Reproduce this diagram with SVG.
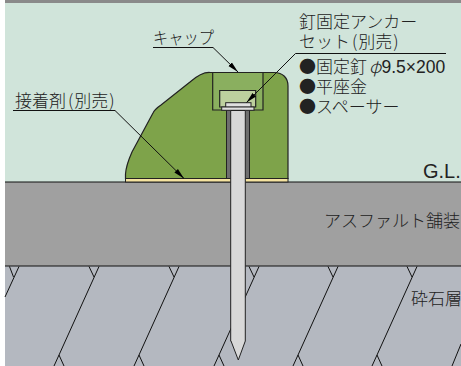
<svg xmlns="http://www.w3.org/2000/svg" width="461" height="366" viewBox="0 0 461 366">
<style>
.t{font-family:"Noto Sans CJK JP","Liberation Sans",sans-serif;font-size:17px;font-weight:300;fill:#222}
.n{font-family:"Liberation Sans",sans-serif;font-size:17.500px;fill:#222}
.l{fill:none;stroke:#111;stroke-width:1}
.g{fill:none;stroke:#111;stroke-width:1}
.o{stroke:#222;stroke-width:1.2}
</style>
<defs>
<marker id="a" markerUnits="userSpaceOnUse" markerWidth="13" markerHeight="9" refX="11" refY="3.5" orient="auto"><path d="M0 1L11 3.5L0 6Z" fill="#000"/></marker>
</defs>
<rect width="461" height="366" fill="#fff"/>
<rect x="5" y="0" width="456" height="182" fill="#d0e4da"/>
<rect x="5" y="0" width="456" height="3" fill="#8a8a8a"/>
<g id="gravel">
<rect x="5" y="266" width="456" height="100" fill="#b4b8c0"/>
<path class="g" d="M9.500 266.500L13.500 277M19 266.500L5 297M89 266.500L94 277M99 266.500L59 355L54 366M59 355L64 366M169 266.500L174 277M179 266.500L139 355L134 366M139 355L144 366M249 266.500L254 277M259 266.500L219 355L214 366M219 355L224 366M328 266.500L333 277M338 266.500L298 355L293 366M298 355L303 366M407 266.500L412 277M417 266.500L377 355L372 366M377 355L382 366M461 344L452 366"/>
</g>
<g id="asphalt">
<rect x="5" y="182" width="456" height="84" fill="#a0a0a0"/>
<path d="M5 182H461M5 266H461" stroke="#111" stroke-width="1"/>
</g>
<g id="cap">
<rect x="125.500" y="178.500" width="162.500" height="3.500" fill="#f5e3a0" stroke="#222" stroke-width="1"/>
<path class="o" fill="#7ea34a" d="M125.500 178.500V174C126 166 128 161 132 152L153 113C155 109 158 107 161 105L190 82C197 76 203 72 210 72.500H274C283 72.500 288 78 288 86V178.500Z"/>
<path class="o" fill="#8aaf5f" d="M212.700 72.500H263V110H212.700Z"/>
<path class="o" fill="#bdd09e" d="M219.700 90.500H255.700V107H219.700Z"/>
</g>
<g id="anchor">
<rect x="226.500" y="110" width="23" height="68.500" fill="#6e6e6e" stroke="#222" stroke-width="1"/>
<rect x="225.700" y="102.700" width="25.300" height="4.500" fill="#e0e0e0" stroke="#222" stroke-width="1"/>
<rect x="221.700" y="107" width="32.300" height="3.300" fill="#e0e0e0" stroke="#222" stroke-width="1"/>
<path fill="#d8d8d8" stroke="#222" stroke-width="1" d="M230.700 110.500H245.300V341L238.300 360L231 341H230.700Z"/>
</g>
<g id="connectors">
<path class="l" marker-end="url(#a)" d="M153 47.500H213L238 72"/>
<path class="l" marker-end="url(#a)" d="M13 110.500H115L184 178.500"/>
<path class="l" marker-end="url(#a)" d="M446 53.500H295.500L246.500 102.500"/>
</g>
<g id="labels">
<text class="t" x="153" y="44" textLength="61" lengthAdjust="spacingAndGlyphs">キャップ</text>
<text class="t" x="15" y="107">接着剤<tspan dx="2">(</tspan><tspan dx="1">別売</tspan><tspan dx="1">)</tspan></text>
<text class="t" x="299" y="28">釘固定アンカー</text>
<text class="t" x="299" y="48">セット<tspan dx="2">(</tspan><tspan dx="1">別売</tspan><tspan dx="1">)</tspan></text>
<text class="t" x="299" y="73">●固定釘</text>
<text class="t" x="369" y="73" font-style="italic">φ</text>
<text class="n" x="381.500" y="73">9.5×200</text>
<text class="t" x="299" y="93">●平座金</text>
<text class="t" x="299" y="113">●スペーサー</text>
<text x="423" y="178" font-family="Liberation Sans" font-size="20" fill="#222">G.L.</text>
<text class="t" x="324" y="227">アスファルト舗装</text>
<text class="t" x="411" y="305">砕石層</text>
</g>
</svg>
